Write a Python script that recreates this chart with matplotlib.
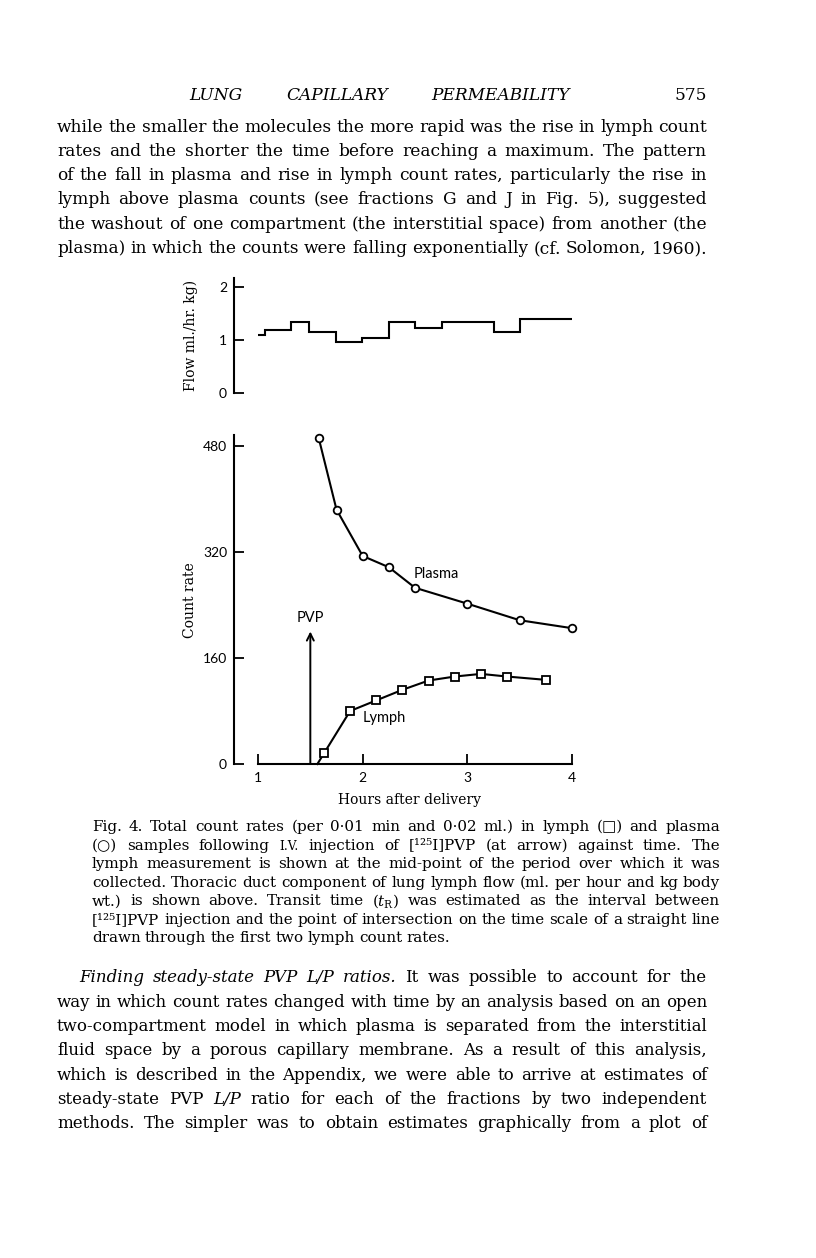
import matplotlib
matplotlib.use('Agg')
import matplotlib.pyplot as plt

W, H = 816, 1258

# data
plasma_hours = [1.58, 1.75, 2.0, 2.25, 2.5, 3.0, 3.5, 4.0]
plasma_counts = [492, 384, 314, 297, 266, 242, 217, 205]
lymph_hours = [1.63, 1.88, 2.13, 2.38, 2.63, 2.88, 3.13, 3.38, 3.75]
lymph_counts = [16, 80, 96, 112, 126, 132, 136, 132, 127]
flow_edges = [1.0, 1.07, 1.315, 1.49, 1.745, 1.99, 2.255, 2.5, 2.755, 3.25, 3.5, 4.0]
flow_values = [1.10, 1.19, 1.34, 1.16, 0.97, 1.03, 1.335, 1.22, 1.35, 1.16, 1.39]
pvp_time = 1.5
hour_ticks = [1, 2, 3, 4]
count_ticks = [0, 160, 320, 480]
flow_ticks = [0, 1, 2]

header = 'LUNG CAPILLARY PERMEABILITY'
page_no = '575'
para1 = [
    'while the smaller the molecules the more rapid was the rise in lymph count',
    'rates and the shorter the time before reaching a maximum. The pattern',
    'of the fall in plasma and rise in lymph count rates, particularly the rise in',
    'lymph above plasma counts (see fractions G and J in Fig. 5), suggested',
    'the washout of one compartment (the interstitial space) from another (the',
    'plasma) in which the counts were falling exponentially (cf. Solomon, 1960).',
]
caption = [
    'Fig. 4. Total count rates (per 0\u00b701 min and 0\u00b702 ml.) in lymph (\u25a1) and plasma',
    '(\u25cb) samples following ^I.V. injection of [\u00b9\u00b2\u2075I]PVP (at arrow) against time. The',
    'lymph measurement is shown at the mid-point of the period over which it was',
    'collected. Thoracic duct component of lung lymph flow (ml. per hour and kg body',
    r'wt.) is shown above. Transit time ($t_{\mathrm{R}}$) was estimated as the interval between',
    '[\u00b9\u00b2\u2075I]PVP injection and the point of intersection on the time scale of a straight line',
    'drawn through the first two lymph count rates.',
]
para2 = [
    '*Finding* *steady-state* *PVP* *L/P* *ratios.* It was possible to account for the',
    'way in which count rates changed with time by an analysis based on an open',
    'two-compartment model in which plasma is separated from the interstitial',
    'fluid space by a porous capillary membrane. As a result of this analysis,',
    'which is described in the Appendix, we were able to arrive at estimates of',
    'steady-state PVP *L/P* ratio for each of the fractions by two independent',
    'methods. The simpler was to obtain estimates graphically from a plot of',
]

plt.rcParams['mathtext.fontset'] = 'dejavuserif'
SERIF = ['DejaVu Serif', 'DejaVu Sans']
SANS = ['Lato', 'DejaVu Sans']

fig = plt.figure(figsize=(W / 100, H / 100), dpi=100)
rend = fig.canvas.get_renderer()


def make_words(s, y, x0, size, family):
    arts = []
    for w in s.split(' '):
        style, fs = 'normal', size
        if len(w) > 1 and w.startswith('*') and w.endswith('*'):
            w, style = w[1:-1], 'italic'
        if w.startswith('^'):
            w, fs = w[1:], size * 0.8
        arts.append(fig.text(x0 / W, 1 - y / H, w, fontsize=fs, family=family,
                             style=style, va='baseline', ha='left'))
    return arts


def natural_width(s, size, family):
    arts = make_words(s, 0, 0, size, family)
    w = sum(a.get_window_extent(renderer=rend).width for a in arts)
    w += size * 0.28 * 100 / 72 * (len(arts) - 1)
    for a in arts:
        a.remove()
    return w


def text_line(s, y, x0, x1, size, family, justify=True):
    arts = make_words(s, y, x0, size, family)
    widths = [a.get_window_extent(renderer=rend).width for a in arts]
    if justify and len(arts) > 1:
        gap = (x1 - x0 - sum(widths)) / (len(arts) - 1)
    else:
        gap = size * 0.28 * 100 / 72
    x = x0
    for a, w in zip(arts, widths):
        a.set_x(x / W)
        x += w + gap


def block(lines, y0, dy, x0, x1, family, indent=0, justify_last=True):
    # pick one font size for the block so the widest line just fits
    base = 10
    n_fit = len(lines) if justify_last else len(lines) - 1
    scale = min((x1 - x0 - (indent if i == 0 else 0)) / natural_width(lines[i], base, family)
                for i in range(n_fit))
    size = base * scale * 0.995
    for i, line in enumerate(lines):
        text_line(line, y0 + dy * i, x0 + (indent if i == 0 else 0), x1, size, family,
                  justify=justify_last or i < len(lines) - 1)
    return size


def rect(left, right, top, bottom):
    return [left / W, 1 - bottom / H, (right - left) / W, (bottom - top) / H]


# page text
body_size = block(para1, 131.5, 24.3, 57, 707, SERIF)
block(para2, 982.4, 24.3, 57, 707, SERIF, indent=22)
block(caption, 831, 18.55, 92, 720, SERIF, justify_last=False)
text_line('*' + header.replace(' ', '* *') + '*', 100, 189, 570, body_size, SERIF)
fig.text(707 / W, 1 - 100 / H, page_no, fontsize=body_size, family=SERIF, ha='right', va='baseline')

# axes geometry: hour 1 at px 258, hour 4 at px 572, spine at px 234
pph = (572 - 258) / 3
xlim = (1 - (258 - 234) / pph, 1 + (604 - 258) / pph)

ax = fig.add_axes(rect(234, 604, 426.1, 777.25))
ax.set_xlim(*xlim)
ax.set_ylim(-20, 510)
ax_f = fig.add_axes(rect(234, 604, 271.5, 400.6))
ax_f.set_xlim(*xlim)
ax_f.set_ylim(-0.15, 2.3)

for a in (ax, ax_f):
    a.patch.set_visible(False)
    a.spines['top'].set_visible(False)
    a.spines['right'].set_visible(False)
    a.spines['left'].set_linewidth(1.5)
    a.tick_params(axis='y', direction='in', length=7, width=1.3, pad=5, labelsize=10)

# flow panel
ax_f.spines['bottom'].set_visible(False)
ax_f.spines['left'].set_bounds(0, 2.18)
ax_f.set_xticks([])
ax_f.set_yticks(flow_ticks)
ax_f.set_yticklabels([str(t) for t in flow_ticks], family=SANS, fontsize=10)
ax_f.stairs(flow_values, flow_edges, baseline=None, color='black', lw=1.5)

# count rate panel
ax.spines['left'].set_bounds(0, 497)
ax.spines['bottom'].set_position(('data', 0))
ax.spines['bottom'].set_bounds(hour_ticks[0], hour_ticks[-1])
ax.spines['bottom'].set_linewidth(1.5)
ax.set_xticks(hour_ticks)
ax.set_xticklabels([str(t) for t in hour_ticks], family=SANS, fontsize=10)
ax.tick_params(axis='x', direction='in', length=7, width=1.3, pad=6)
ax.set_yticks(count_ticks)
ax.set_yticklabels([str(t) for t in count_ticks], family=SANS, fontsize=10)

ax.plot(plasma_hours, plasma_counts, color='black', lw=1.5, marker='o', ms=5.5,
        mfc='white', mec='black', mew=1.3, zorder=3)

# lymph line extended back to the time axis through the first two points
x1, x2 = lymph_hours[0], lymph_hours[1]
y1, y2 = lymph_counts[0], lymph_counts[1]
t0 = x1 - y1 * (x2 - x1) / (y2 - y1)
ax.plot([t0, x1], [0, y1], color='black', lw=1.5, zorder=2)
ax.plot(lymph_hours, lymph_counts, color='black', lw=1.5, marker='s', ms=5.5,
        mfc='white', mec='black', mew=1.3, zorder=3)

ax.annotate('', xy=(pvp_time, 200), xytext=(pvp_time, 0),
            arrowprops=dict(arrowstyle='->,head_length=0.5,head_width=0.25', lw=1.4, color='black',
                            shrinkA=0, shrinkB=0))
ax.text(pvp_time, 220, 'PVP', family=SANS, fontsize=10.5, ha='center', va='center')
ax.text(2.70, 287, 'Plasma', family=SANS, fontsize=10.5, ha='center', va='center')
ax.text(2.21, 69, 'Lymph', family=SANS, fontsize=10.5, ha='center', va='center')

# axis titles
fig.text(190 / W, 1 - 600 / H, 'Count rate', rotation=90, family=SERIF, fontsize=10,
         ha='center', va='center')
fig.text(191 / W, 1 - 335 / H, 'Flow ml./hr. kg)', rotation=90, family=SERIF, fontsize=10,
         ha='center', va='center')
fig.text(410 / W, 1 - 800 / H, 'Hours after delivery', family=SERIF, fontsize=10,
         ha='center', va='center')

fig.savefig('out.png', dpi=100, facecolor='white')
